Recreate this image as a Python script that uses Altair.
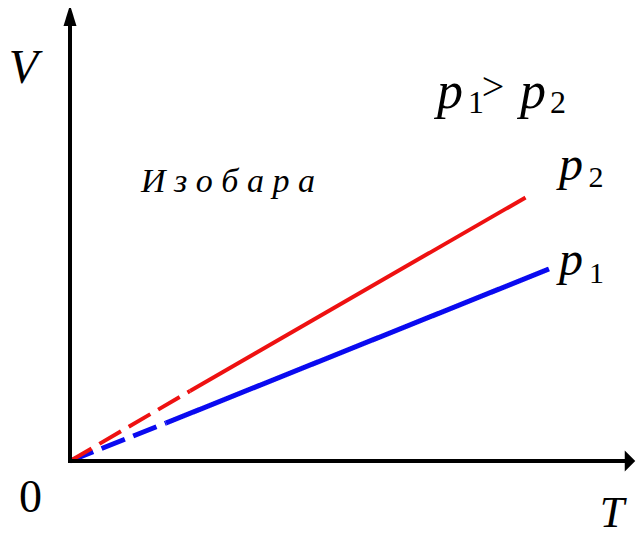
import altair as alt
import pandas as pd

# ---- data (T, V in arbitrary units) ----
series_names = ["p1", "p2"]
p1_T = [0.0, 1.92, 9.58]
p1_V = [0.0, 0.76, 3.84]
p2_T = [0.0, 2.40, 9.11]
p2_V = [0.0, 1.40, 5.27]
segments = ["dashed", "solid"]

label_texts = ["V", "0", "T", "И з о б а р а", "p", "1", ">", "p", "2", "p", "2", "p", "1"]

rows = []
for name, Ts, Vs in [("p1", p1_T, p1_V), ("p2", p2_T, p2_V)]:
    for i, seg in enumerate(segments):
        for j in (i, i + 1):
            rows.append({"series": name, "seg": seg, "key": name + seg, "T": Ts[j], "V": Vs[j]})
df = pd.DataFrame(rows)

xs = alt.Scale(domain=[-1.24, 11.32], nice=False, zero=False)
ys = alt.Scale(domain=[-1.42, 9.06], nice=False, zero=False)

FONT = "Liberation Serif"

lines = alt.Chart(df).mark_line().encode(
    x=alt.X("T:Q", scale=xs, axis=None),
    y=alt.Y("V:Q", scale=ys, axis=None),
    color=alt.Color("series:N", scale=alt.Scale(domain=series_names, range=["#0a0af0", "#ee1111"]), legend=None),
    strokeWidth=alt.StrokeWidth("series:N", scale=alt.Scale(domain=series_names, range=[5, 4]), legend=None),
    strokeDash=alt.StrokeDash("seg:N", scale=alt.Scale(domain=segments, range=[[25, 9], [1, 0]]), legend=None),
    detail="key:N",
    order="T:Q",
)

one = alt.Data(values=[{}])

def xd(v):
    return alt.XDatum(v, type="quantitative", scale=xs, axis=None)

def yd(v):
    return alt.YDatum(v, type="quantitative", scale=ys, axis=None)

y_axis = alt.Chart(one).mark_rule(color="black", strokeWidth=4).encode(
    x=xd(0.0), y=yd(-0.04), y2=alt.Y2Datum(8.78)
)
x_axis = alt.Chart(one).mark_rule(color="black", strokeWidth=4).encode(
    y=yd(0.0), x=xd(-0.04), x2=alt.X2Datum(11.14)
)
y_arrow = alt.Chart(one).mark_point(
    shape="M0,-1L0.62,1L-0.62,1Z", filled=True, size=441, color="black", opacity=1, strokeWidth=0
).encode(x=xd(0.0), y=yd(8.91))
x_arrow = alt.Chart(one).mark_point(
    shape="M0.5,0L-0.5,-1L-0.5,1Z", filled=True, size=441, color="black", opacity=1, strokeWidth=0
).encode(x=xd(11.20), y=yd(0.0))


def label(text, t, v, size, italic=True):
    return alt.Chart(one).mark_text(
        text=text,
        font=FONT,
        fontSize=size,
        fontStyle="italic" if italic else "normal",
        align="center",
        baseline="alphabetic",
        color="black",
    ).encode(x=xd(t), y=yd(v))


texts = [
    label(label_texts[0], -0.93, 7.56, 48),
    label(label_texts[1], -0.79, -1.02, 46, italic=False),
    label(label_texts[2], 10.84, -1.32, 44),
    label(label_texts[3], 3.16, 5.38, 34),
    label(label_texts[4], 7.60, 7.06, 52),
    label(label_texts[5], 8.12, 6.96, 32, italic=False),
    label(label_texts[6], 8.46, 7.22, 40, italic=False),
    label(label_texts[7], 9.26, 7.06, 52),
    label(label_texts[8], 9.76, 6.96, 32, italic=False),
    label(label_texts[9], 10.02, 5.62, 48),
    label(label_texts[10], 10.52, 5.48, 30, italic=False),
    label(label_texts[11], 10.02, 3.72, 48),
    label(label_texts[12], 10.53, 3.56, 30, italic=False),
]

chart = alt.layer(lines, y_axis, x_axis, y_arrow, x_arrow, *texts).properties(
    width=628, height=524, padding=0, autosize="none", background="white"
).configure_view(stroke=None)

chart.save("out.html", embed_options={"renderer": "svg", "actions": False})
